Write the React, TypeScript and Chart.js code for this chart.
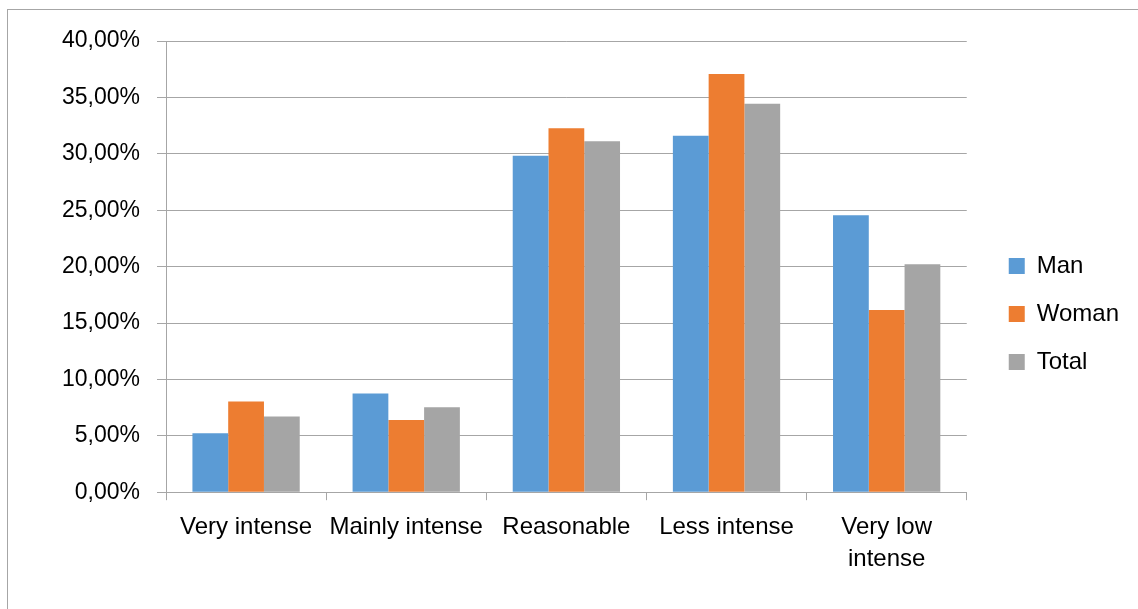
import { useEffect, useRef } from "react";
import { Chart, registerables } from "chart.js";

Chart.register(...registerables);

const categories: (string | string[])[] = [
  "Very intense",
  "Mainly intense",
  "Reasonable",
  "Less intense",
  ["Very low", "intense"],
];
const manValues = [5.23, 8.74, 29.82, 31.59, 24.56];
const womanValues = [8.03, 6.41, 32.27, 37.07, 16.15];
const totalValues = [6.7, 7.53, 31.12, 34.44, 20.2];
const yTicks = [0, 5, 10, 15, 20, 25, 30, 35, 40];

const FONT = "'Liberation Sans', Arial, sans-serif";
const GRID = "#a6a6a6";

const formatPct = (v: number) => v.toFixed(2).replace(".", ",") + "%";

export default function App() {
  const canvasRef = useRef<HTMLCanvasElement | null>(null);
  const chartRef = useRef<Chart | null>(null);

  useEffect(() => {
    if (!canvasRef.current) return;
    if (chartRef.current) chartRef.current.destroy();

    chartRef.current = new Chart(canvasRef.current, {
      type: "bar",
      data: {
        labels: categories,
        datasets: [
          { label: "Man", data: manValues, backgroundColor: "#5b9bd5" },
          { label: "Woman", data: womanValues, backgroundColor: "#ed7d31" },
          { label: "Total", data: totalValues, backgroundColor: "#a5a5a5" },
        ],
      },
      options: {
        animation: false,
        responsive: true,
        maintainAspectRatio: false,
        layout: { padding: { top: 31, left: 37, bottom: 33, right: 9 } },
        datasets: {
          bar: { categoryPercentage: 0.67, barPercentage: 1 },
        },
        plugins: {
          tooltip: { enabled: false },
          legend: {
            position: "right",
            labels: {
              boxWidth: 16,
              boxHeight: 16,
              padding: 24,
              color: "#000",
              font: { family: FONT, size: 24 },
            },
          },
        },
        scales: {
          x: {
            grid: {
              drawOnChartArea: false,
              drawTicks: true,
              tickLength: 8,
              color: GRID,
            },
            border: { color: GRID },
            ticks: {
              color: "#000",
              padding: 11,
              autoSkip: false,
              maxRotation: 0,
              minRotation: 0,
              font: { family: FONT, size: 24, lineHeight: 1.35 },
            },
          },
          y: {
            min: 0,
            max: 40,
            afterBuildTicks: (scale) => {
              scale.ticks = yTicks.map((v) => ({ value: v }));
            },
            grid: { color: GRID, tickLength: 9 },
            border: { color: GRID },
            ticks: {
              color: "#000",
              padding: 17,
              font: { family: FONT, size: 23 },
              callback: (v) => formatPct(Number(v)),
            },
          },
          // empty axis that leaves the gap between plot and legend
          gap: {
            position: "right",
            display: true,
            grid: { display: false },
            border: { display: false },
            ticks: { display: false },
            afterFit: (scale) => {
              scale.width = 18;
            },
          },
        },
      },
    });

    return () => {
      if (chartRef.current) {
        chartRef.current.destroy();
        chartRef.current = null;
      }
    };
  }, []);

  return (
    <div>
      <style>{"body{margin:0;overflow:hidden;background:#fff}"}</style>
      {/* chart frame, runs past the right and bottom edges */}
      <div
        style={{
          position: "absolute",
          left: 7,
          top: 9,
          width: 1300,
          height: 800,
          border: "1px solid #a6a6a6",
        }}
      />
      <div
        style={{
          position: "absolute",
          left: 8,
          top: 10,
          width: 1130,
          height: 610,
        }}
      >
        <canvas ref={canvasRef}></canvas>
      </div>
    </div>
  );
}
